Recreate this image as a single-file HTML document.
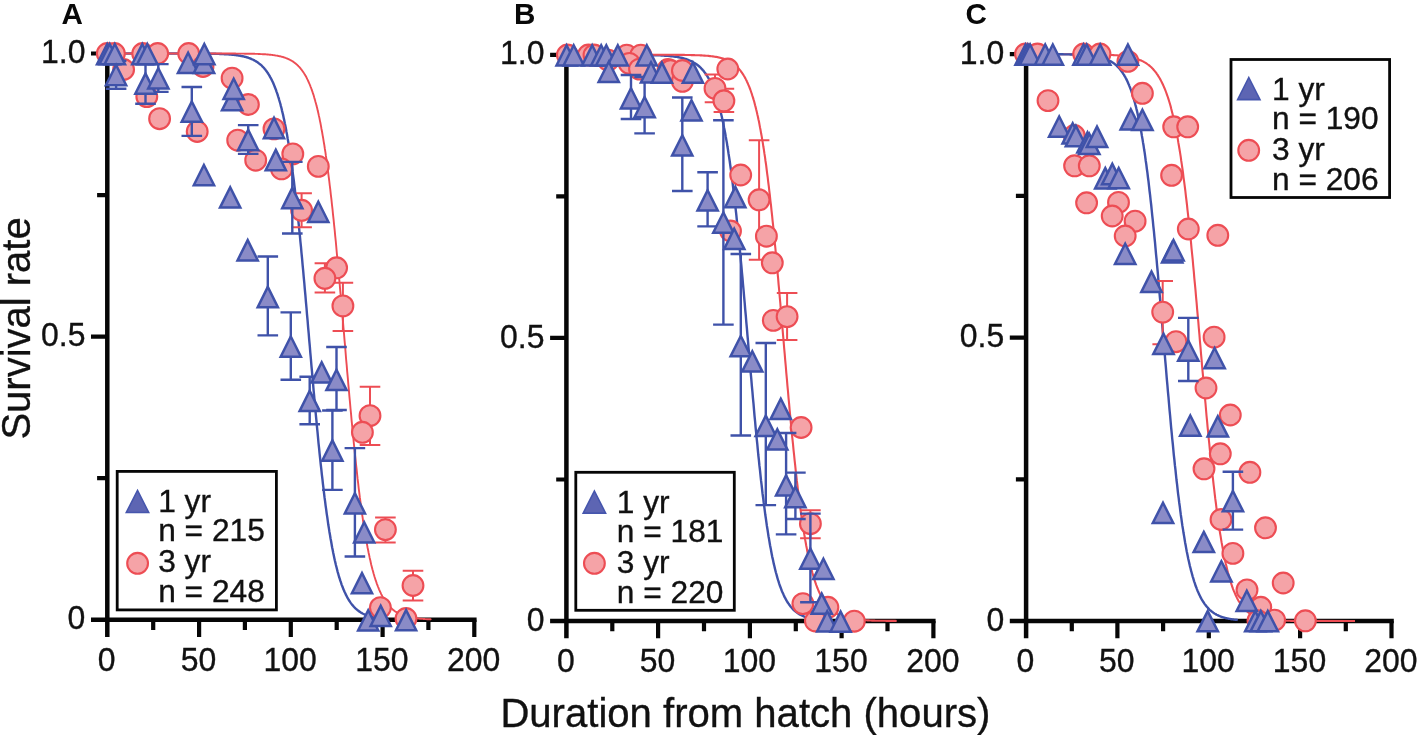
<!DOCTYPE html>
<html lang="en"><head><meta charset="utf-8"><title>Survival rate vs duration from hatch</title>
<style>html,body{margin:0;padding:0;background:#fff}body{width:1417px;height:735px;overflow:hidden}svg{display:block}</style></head>
<body>
<svg width="1417" height="735" viewBox="0 0 1417 735" font-family="'Liberation Sans', Arial, sans-serif">
<rect width="1417" height="735" fill="#fff"/>
<g><path d="M91.0 619.8 H476.6" stroke="#060606" stroke-width="4.5" fill="none"/><path d="M107.3 51.4 V637.0" stroke="#060606" stroke-width="4.5" fill="none"/><path d="M199.1 619.8 V637.0M290.8 619.8 V637.0M382.6 619.8 V637.0M474.3 619.8 V637.0M153.2 619.8 V630.0M244.9 619.8 V630.0M336.7 619.8 V630.0M428.4 619.8 V630.0M91.0 53.5 H107.3M97.1 195.1 H107.3M91.0 336.6 H107.3M97.1 478.2 H107.3" stroke="#060606" stroke-width="4.2" fill="none"/></g>
<g font-size="34" fill="#111" stroke="#111" stroke-width=".35"><text transform="translate(106.7,670.8) scale(.94,1)" text-anchor="middle">0</text><text transform="translate(198.5,670.8) scale(.94,1)" text-anchor="middle">50</text><text transform="translate(290.2,670.8) scale(.94,1)" text-anchor="middle">100</text><text transform="translate(381.9,670.8) scale(.94,1)" text-anchor="middle">150</text><text transform="translate(473.7,670.8) scale(.94,1)" text-anchor="middle">200</text><text transform="translate(85.4,63.1) scale(.94,1)" text-anchor="end">1.0</text><text transform="translate(85.4,346.2) scale(.94,1)" text-anchor="end">0.5</text><text transform="translate(85.4,629.4) scale(.94,1)" text-anchor="end">0</text></g>
<g><path d="M550.1 621.0 H935.6" stroke="#060606" stroke-width="4.5" fill="none"/><path d="M566.4 52.7 V638.2" stroke="#060606" stroke-width="4.5" fill="none"/><path d="M658.1 621.0 V638.2M749.9 621.0 V638.2M841.6 621.0 V638.2M933.4 621.0 V638.2M612.3 621.0 V631.2M704.0 621.0 V631.2M795.8 621.0 V631.2M887.5 621.0 V631.2M550.1 54.8 H566.4M556.2 196.4 H566.4M550.1 337.9 H566.4M556.2 479.5 H566.4" stroke="#060606" stroke-width="4.2" fill="none"/></g>
<g font-size="34" fill="#111" stroke="#111" stroke-width=".35"><text transform="translate(565.8,672.0) scale(.94,1)" text-anchor="middle">0</text><text transform="translate(657.5,672.0) scale(.94,1)" text-anchor="middle">50</text><text transform="translate(749.3,672.0) scale(.94,1)" text-anchor="middle">100</text><text transform="translate(841.0,672.0) scale(.94,1)" text-anchor="middle">150</text><text transform="translate(932.8,672.0) scale(.94,1)" text-anchor="middle">200</text><text transform="translate(544.5,64.4) scale(.94,1)" text-anchor="end">1.0</text><text transform="translate(544.5,347.5) scale(.94,1)" text-anchor="end">0.5</text><text transform="translate(544.5,630.6) scale(.94,1)" text-anchor="end">0</text></g>
<g><path d="M1009.8 621.0 H1393.8" stroke="#060606" stroke-width="4.5" fill="none"/><path d="M1026.1 52.1 V638.2" stroke="#060606" stroke-width="4.5" fill="none"/><path d="M1117.4 621.0 V638.2M1208.8 621.0 V638.2M1300.1 621.0 V638.2M1391.5 621.0 V638.2M1071.8 621.0 V631.2M1163.1 621.0 V631.2M1254.5 621.0 V631.2M1345.8 621.0 V631.2M1009.8 54.2 H1026.1M1015.9 195.9 H1026.1M1009.8 337.6 H1026.1M1015.9 479.3 H1026.1" stroke="#060606" stroke-width="4.2" fill="none"/></g>
<g font-size="34" fill="#111" stroke="#111" stroke-width=".35"><text transform="translate(1025.5,672.0) scale(.94,1)" text-anchor="middle">0</text><text transform="translate(1116.8,672.0) scale(.94,1)" text-anchor="middle">50</text><text transform="translate(1208.2,672.0) scale(.94,1)" text-anchor="middle">100</text><text transform="translate(1299.5,672.0) scale(.94,1)" text-anchor="middle">150</text><text transform="translate(1390.9,672.0) scale(.94,1)" text-anchor="middle">200</text><text transform="translate(1004.2,63.8) scale(.94,1)" text-anchor="end">1.0</text><text transform="translate(1004.2,347.2) scale(.94,1)" text-anchor="end">0.5</text><text transform="translate(1004.2,630.6) scale(.94,1)" text-anchor="end">0</text></g>
<path d="M107.3 53.5 L195.1 53.5 L195.1 53.6 L195.7 53.6 L196.3 53.6 L196.9 53.6 L197.5 53.6 L198.1 53.6 L198.6 53.6 L199.2 53.6 L199.8 53.6 L200.4 53.6 L201.0 53.6 L201.6 53.6 L202.2 53.6 L202.8 53.6 L203.4 53.6 L203.9 53.6 L204.5 53.6 L205.1 53.7 L205.7 53.7 L206.3 53.7 L206.9 53.7 L207.5 53.7 L208.1 53.7 L208.6 53.7 L209.2 53.7 L209.8 53.7 L210.4 53.7 L211.0 53.7 L211.6 53.7 L212.2 53.8 L212.8 53.8 L213.3 53.8 L213.9 53.8 L214.5 53.8 L215.1 53.8 L215.7 53.8 L216.3 53.9 L216.8 53.9 L217.4 53.9 L218.0 53.9 L218.6 53.9 L219.2 53.9 L219.8 54.0 L220.3 54.0 L220.9 54.0 L221.5 54.0 L222.1 54.1 L222.7 54.1 L223.3 54.1 L223.8 54.1 L224.4 54.2 L225.0 54.2 L225.6 54.2 L226.2 54.3 L226.7 54.3 L227.3 54.3 L227.9 54.4 L228.5 54.4 L229.1 54.5 L229.6 54.5 L230.2 54.5 L230.8 54.6 L231.4 54.6 L232.0 54.7 L232.5 54.8 L233.1 54.8 L233.7 54.9 L234.3 54.9 L234.8 55.0 L235.4 55.1 L236.0 55.1 L236.6 55.2 L237.2 55.3 L237.7 55.4 L238.3 55.5 L238.9 55.6 L239.5 55.6 L240.0 55.7 L240.6 55.8 L241.2 56.0 L241.8 56.1 L242.3 56.2 L242.9 56.3 L243.5 56.4 L244.1 56.6 L244.6 56.7 L245.2 56.9 L245.8 57.0 L246.4 57.2 L246.9 57.3 L247.5 57.5 L248.1 57.7 L248.6 57.9 L249.2 58.1 L249.8 58.3 L250.4 58.5 L250.9 58.8 L251.5 59.0 L252.1 59.3 L252.6 59.5 L253.2 59.8 L253.8 60.1 L254.4 60.4 L254.9 60.7 L255.5 61.0 L256.1 61.4 L256.6 61.7 L257.2 62.1 L257.8 62.5 L258.3 62.9 L258.9 63.3 L259.5 63.8 L260.0 64.2 L260.6 64.7 L261.2 65.2 L261.8 65.7 L262.3 66.3 L262.9 66.9 L263.5 67.5 L264.0 68.1 L264.6 68.8 L265.2 69.4 L265.7 70.2 L266.3 70.9 L266.9 71.7 L267.4 72.5 L268.0 73.3 L268.5 74.2 L269.1 75.1 L269.7 76.1 L270.2 77.1 L270.8 78.1 L271.4 79.2 L271.9 80.4 L272.5 81.5 L273.1 82.8 L273.6 84.0 L274.2 85.4 L274.7 86.8 L275.3 88.2 L275.9 89.7 L276.4 91.3 L277.0 92.9 L277.6 94.6 L278.1 96.3 L278.7 98.1 L279.2 100.0 L279.8 102.0 L280.4 104.0 L280.9 106.1 L281.5 108.3 L282.0 110.6 L282.6 113.0 L283.2 115.4 L283.7 117.9 L284.3 120.6 L284.8 123.3 L285.4 126.1 L286.0 129.0 L286.5 132.0 L287.1 135.1 L287.6 138.3 L288.2 141.6 L288.8 145.0 L289.3 148.5 L289.9 152.1 L290.4 155.9 L291.0 159.7 L291.5 163.6 L292.1 167.7 L292.6 171.9 L293.2 176.1 L293.8 180.5 L294.3 185.0 L294.9 189.7 L295.4 194.4 L296.0 199.2 L296.5 204.1 L297.1 209.2 L297.6 214.3 L298.2 219.6 L298.8 224.9 L299.3 230.3 L299.9 235.9 L300.4 241.5 L301.0 247.2 L301.5 253.0 L302.1 258.9 L302.6 264.8 L303.2 270.8 L303.7 276.9 L304.3 283.0 L304.8 289.2 L305.4 295.4 L305.9 301.7 L306.5 308.0 L307.0 314.3 L307.6 320.7 L308.1 327.1 L308.7 333.5 L309.2 339.8 L309.8 346.2 L310.3 352.6 L310.9 359.0 L311.4 365.3 L312.0 371.6 L312.5 377.9 L313.1 384.1 L313.6 390.3 L314.2 396.4 L314.7 402.5 L315.3 408.5 L315.8 414.4 L316.4 420.3 L316.9 426.1 L317.5 431.8 L318.0 437.4 L318.5 443.0 L319.1 448.4 L319.6 453.7 L320.2 459.0 L320.7 464.1 L321.3 469.2 L321.8 474.1 L322.4 478.9 L322.9 483.6 L323.5 488.3 L324.0 492.8 L324.5 497.2 L325.1 501.4 L325.6 505.6 L326.2 509.7 L326.7 513.6 L327.3 517.4 L327.8 521.2 L328.3 524.8 L328.9 528.3 L329.4 531.7 L330.0 535.0 L330.5 538.2 L331.1 541.3 L331.6 544.3 L332.1 547.2 L332.7 550.0 L333.2 552.7 L333.8 555.4 L334.3 557.9 L334.8 560.3 L335.4 562.7 L335.9 565.0 L336.5 567.2 L337.0 569.3 L337.5 571.3 L338.1 573.3 L338.6 575.2 L339.1 577.0 L339.7 578.7 L340.2 580.4 L340.8 582.0 L341.3 583.6 L341.8 585.1 L342.4 586.5 L342.9 587.9 L343.4 589.3 L344.0 590.5 L344.5 591.8 L345.1 592.9 L345.6 594.1 L346.1 595.2 L346.7 596.2 L347.2 597.2 L347.7 598.2 L348.3 599.1 L348.8 600.0 L349.3 600.8 L349.9 601.6 L350.4 602.4 L350.9 603.1 L351.5 603.9 L352.0 604.5 L352.5 605.2 L353.1 605.8 L353.6 606.4 L354.1 607.0 L354.7 607.6 L355.2 608.1 L355.7 608.6 L356.3 609.1 L356.8 609.5 L357.3 610.0 L357.9 610.4 L358.4 610.8 L358.9 611.2 L359.4 611.6 L360.0 611.9 L360.5 612.3 L361.0 612.6 L361.6 612.9 L362.1 613.2 L362.6 613.5 L363.2 613.8 L363.7 614.0 L364.2 614.3 L364.7 614.5 L365.3 614.8 L365.8 615.0 L366.3 615.2 L366.8 615.4 L367.4 615.6 L367.9 615.8 L368.4 616.0 L369.0 616.1 L369.5 616.3 L370.0 616.4 L370.5 616.6 L371.1 616.7 L371.6 616.9 L372.1 617.0 L372.6 617.1 L373.2 617.2 L373.7 617.3 L374.2 617.5 L374.7 617.6 L375.3 617.7 L375.8 617.7 L376.3 617.8 L376.8 617.9 L377.4 618.0 L377.9 618.1 L378.4 618.2 L378.9 618.2 L379.4 618.3 L380.0 618.4 L380.5 618.4 L381.0 618.5 L381.5 618.5 L382.1 618.6 L382.6 618.7 L383.1 618.7 L383.6 618.8" fill="none" stroke="#3f52a9" stroke-width="2.4" stroke-linejoin="round"/>
<path d="M107.3 53.5 L235.5 53.5 L235.5 53.6 L236.1 53.6 L236.6 53.6 L237.1 53.6 L237.7 53.6 L238.2 53.6 L238.8 53.6 L239.3 53.6 L239.9 53.6 L240.4 53.6 L240.9 53.6 L241.5 53.6 L242.0 53.6 L242.6 53.6 L243.1 53.6 L243.7 53.6 L244.2 53.6 L244.7 53.7 L245.3 53.7 L245.8 53.7 L246.4 53.7 L246.9 53.7 L247.5 53.7 L248.0 53.7 L248.5 53.7 L249.1 53.7 L249.6 53.7 L250.2 53.7 L250.7 53.7 L251.3 53.8 L251.8 53.8 L252.3 53.8 L252.9 53.8 L253.4 53.8 L254.0 53.8 L254.5 53.8 L255.1 53.9 L255.6 53.9 L256.1 53.9 L256.7 53.9 L257.2 53.9 L257.8 53.9 L258.3 54.0 L258.9 54.0 L259.4 54.0 L260.0 54.0 L260.5 54.1 L261.0 54.1 L261.6 54.1 L262.1 54.1 L262.7 54.2 L263.2 54.2 L263.8 54.2 L264.3 54.3 L264.9 54.3 L265.4 54.3 L265.9 54.4 L266.5 54.4 L267.0 54.5 L267.6 54.5 L268.1 54.5 L268.7 54.6 L269.2 54.6 L269.7 54.7 L270.3 54.8 L270.8 54.8 L271.4 54.9 L271.9 54.9 L272.5 55.0 L273.0 55.1 L273.6 55.1 L274.1 55.2 L274.6 55.3 L275.2 55.4 L275.7 55.5 L276.3 55.6 L276.8 55.6 L277.4 55.7 L277.9 55.8 L278.5 56.0 L279.0 56.1 L279.5 56.2 L280.1 56.3 L280.6 56.4 L281.2 56.6 L281.7 56.7 L282.3 56.9 L282.8 57.0 L283.4 57.2 L283.9 57.3 L284.4 57.5 L285.0 57.7 L285.5 57.9 L286.1 58.1 L286.6 58.3 L287.2 58.5 L287.7 58.8 L288.3 59.0 L288.8 59.3 L289.4 59.5 L289.9 59.8 L290.4 60.1 L291.0 60.4 L291.5 60.7 L292.1 61.0 L292.6 61.4 L293.2 61.7 L293.7 62.1 L294.3 62.5 L294.8 62.9 L295.3 63.3 L295.9 63.8 L296.4 64.2 L297.0 64.7 L297.5 65.2 L298.1 65.7 L298.6 66.3 L299.2 66.9 L299.7 67.5 L300.3 68.1 L300.8 68.8 L301.3 69.4 L301.9 70.2 L302.4 70.9 L303.0 71.7 L303.5 72.5 L304.1 73.3 L304.6 74.2 L305.2 75.1 L305.7 76.1 L306.3 77.1 L306.8 78.1 L307.3 79.2 L307.9 80.4 L308.4 81.5 L309.0 82.8 L309.5 84.0 L310.1 85.4 L310.6 86.8 L311.2 88.2 L311.7 89.7 L312.3 91.3 L312.8 92.9 L313.4 94.6 L313.9 96.3 L314.4 98.1 L315.0 100.0 L315.5 102.0 L316.1 104.0 L316.6 106.1 L317.2 108.3 L317.7 110.6 L318.3 113.0 L318.8 115.4 L319.4 117.9 L319.9 120.6 L320.5 123.3 L321.0 126.1 L321.5 129.0 L322.1 132.0 L322.6 135.1 L323.2 138.3 L323.7 141.6 L324.3 145.0 L324.8 148.5 L325.4 152.1 L325.9 155.9 L326.5 159.7 L327.0 163.6 L327.6 167.7 L328.1 171.9 L328.6 176.1 L329.2 180.5 L329.7 185.0 L330.3 189.7 L330.8 194.4 L331.4 199.2 L331.9 204.1 L332.5 209.2 L333.0 214.3 L333.6 219.6 L334.1 224.9 L334.7 230.3 L335.2 235.9 L335.8 241.5 L336.3 247.2 L336.8 253.0 L337.4 258.9 L337.9 264.8 L338.5 270.8 L339.0 276.9 L339.6 283.0 L340.1 289.2 L340.7 295.4 L341.2 301.7 L341.8 308.0 L342.3 314.3 L342.9 320.7 L343.4 327.1 L344.0 333.5 L344.5 339.8 L345.1 346.2 L345.6 352.6 L346.1 359.0 L346.7 365.3 L347.2 371.6 L347.8 377.9 L348.3 384.1 L348.9 390.3 L349.4 396.4 L350.0 402.5 L350.5 408.5 L351.1 414.4 L351.6 420.3 L352.2 426.1 L352.7 431.8 L353.3 437.4 L353.8 443.0 L354.4 448.4 L354.9 453.7 L355.5 459.0 L356.0 464.1 L356.6 469.2 L357.1 474.1 L357.6 478.9 L358.2 483.6 L358.7 488.3 L359.3 492.8 L359.8 497.2 L360.4 501.4 L360.9 505.6 L361.5 509.7 L362.0 513.6 L362.6 517.4 L363.1 521.2 L363.7 524.8 L364.2 528.3 L364.8 531.7 L365.3 535.0 L365.9 538.2 L366.4 541.3 L367.0 544.3 L367.5 547.2 L368.1 550.0 L368.6 552.7 L369.2 555.4 L369.7 557.9 L370.3 560.3 L370.8 562.7 L371.3 565.0 L371.9 567.2 L372.4 569.3 L373.0 571.3 L373.5 573.3 L374.1 575.2 L374.6 577.0 L375.2 578.7 L375.7 580.4 L376.3 582.0 L376.8 583.6 L377.4 585.1 L377.9 586.5 L378.5 587.9 L379.0 589.3 L379.6 590.5 L380.1 591.8 L380.7 592.9 L381.2 594.1 L381.8 595.2 L382.3 596.2 L382.9 597.2 L383.4 598.2 L384.0 599.1 L384.5 600.0 L385.1 600.8 L385.6 601.6 L386.2 602.4 L386.7 603.1 L387.3 603.9 L387.8 604.5 L388.4 605.2 L388.9 605.8 L389.5 606.4 L390.0 607.0 L390.6 607.6 L391.1 608.1 L391.7 608.6 L392.2 609.1 L392.7 609.5 L393.3 610.0 L393.8 610.4 L394.4 610.8 L394.9 611.2 L395.5 611.6 L396.0 611.9 L396.6 612.3 L397.1 612.6 L397.7 612.9 L398.2 613.2 L398.8 613.5 L399.3 613.8 L399.9 614.0 L400.4 614.3 L401.0 614.5 L401.5 614.8 L402.1 615.0 L402.6 615.2 L403.2 615.4 L403.7 615.6 L404.3 615.8 L404.8 616.0 L405.4 616.1 L405.9 616.3 L406.5 616.4 L407.0 616.6 L407.6 616.7 L408.1 616.9 L408.7 617.0 L409.2 617.1 L409.8 617.2 L410.3 617.3 L410.9 617.5 L411.4 617.6 L412.0 617.7 L412.5 617.7 L413.1 617.8 L413.6 617.9 L414.2 618.0 L414.7 618.1 L415.3 618.2 L415.8 618.2 L416.4 618.3 L416.9 618.4 L417.5 618.4 L418.0 618.5 L418.6 618.5 L419.1 618.6 L419.7 618.7 L420.2 618.7 L420.8 618.8 L421.3 618.8 L421.9 618.8 L422.4 618.9 L423.0 618.9 L423.5 619.0 L424.1 619.0 L424.6 619.0 L425.2 619.1 L425.7 619.1 L426.3 619.1 L426.8 619.2 L427.4 619.2 L427.9 619.2 L428.5 619.2 L429.0 619.3 L429.6 619.3 L430.1 619.3 L430.7 619.3 L431.2 619.8" fill="none" stroke="#ed4d54" stroke-width="1.9" stroke-linejoin="round"/>
<path d="M566.4 54.8 L630.0 54.8 L630.0 54.9 L630.6 54.9 L631.3 54.9 L631.9 54.9 L632.5 54.9 L633.1 54.9 L633.8 54.9 L634.4 54.9 L635.0 54.9 L635.7 54.9 L636.3 54.9 L636.9 54.9 L637.5 54.9 L638.2 54.9 L638.8 54.9 L639.4 54.9 L640.0 54.9 L640.7 55.0 L641.3 55.0 L641.9 55.0 L642.5 55.0 L643.2 55.0 L643.8 55.0 L644.4 55.0 L645.0 55.0 L645.7 55.0 L646.3 55.0 L646.9 55.0 L647.5 55.0 L648.1 55.1 L648.8 55.1 L649.4 55.1 L650.0 55.1 L650.6 55.1 L651.2 55.1 L651.8 55.1 L652.5 55.2 L653.1 55.2 L653.7 55.2 L654.3 55.2 L654.9 55.2 L655.5 55.2 L656.2 55.3 L656.8 55.3 L657.4 55.3 L658.0 55.3 L658.6 55.4 L659.2 55.4 L659.8 55.4 L660.4 55.4 L661.1 55.5 L661.7 55.5 L662.3 55.5 L662.9 55.6 L663.5 55.6 L664.1 55.6 L664.7 55.7 L665.3 55.7 L665.9 55.8 L666.5 55.8 L667.1 55.8 L667.7 55.9 L668.4 55.9 L669.0 56.0 L669.6 56.1 L670.2 56.1 L670.8 56.2 L671.4 56.2 L672.0 56.3 L672.6 56.4 L673.2 56.4 L673.8 56.5 L674.4 56.6 L675.0 56.7 L675.6 56.8 L676.2 56.9 L676.8 56.9 L677.4 57.0 L678.0 57.1 L678.6 57.3 L679.2 57.4 L679.8 57.5 L680.4 57.6 L681.0 57.7 L681.6 57.9 L682.2 58.0 L682.8 58.2 L683.4 58.3 L684.0 58.5 L684.6 58.6 L685.2 58.8 L685.7 59.0 L686.3 59.2 L686.9 59.4 L687.5 59.6 L688.1 59.8 L688.7 60.1 L689.3 60.3 L689.9 60.6 L690.5 60.8 L691.1 61.1 L691.7 61.4 L692.3 61.7 L692.8 62.0 L693.4 62.3 L694.0 62.7 L694.6 63.0 L695.2 63.4 L695.8 63.8 L696.4 64.2 L697.0 64.6 L697.5 65.1 L698.1 65.5 L698.7 66.0 L699.3 66.5 L699.9 67.0 L700.5 67.6 L701.0 68.2 L701.6 68.8 L702.2 69.4 L702.8 70.1 L703.4 70.7 L704.0 71.5 L704.5 72.2 L705.1 73.0 L705.7 73.8 L706.3 74.6 L706.9 75.5 L707.4 76.4 L708.0 77.4 L708.6 78.4 L709.2 79.4 L709.7 80.5 L710.3 81.7 L710.9 82.8 L711.5 84.1 L712.0 85.3 L712.6 86.7 L713.2 88.0 L713.8 89.5 L714.3 91.0 L714.9 92.5 L715.5 94.2 L716.1 95.9 L716.6 97.6 L717.2 99.4 L717.8 101.3 L718.3 103.3 L718.9 105.3 L719.5 107.4 L720.1 109.6 L720.6 111.9 L721.2 114.3 L721.8 116.7 L722.3 119.2 L722.9 121.8 L723.5 124.6 L724.0 127.4 L724.6 130.3 L725.2 133.3 L725.7 136.4 L726.3 139.6 L726.9 142.9 L727.4 146.3 L728.0 149.8 L728.5 153.4 L729.1 157.1 L729.7 161.0 L730.2 164.9 L730.8 169.0 L731.4 173.1 L731.9 177.4 L732.5 181.8 L733.0 186.3 L733.6 190.9 L734.2 195.6 L734.7 200.5 L735.3 205.4 L735.8 210.4 L736.4 215.6 L736.9 220.8 L737.5 226.2 L738.1 231.6 L738.6 237.1 L739.2 242.8 L739.7 248.5 L740.3 254.3 L740.8 260.1 L741.4 266.1 L741.9 272.1 L742.5 278.1 L743.0 284.3 L743.6 290.5 L744.1 296.7 L744.7 303.0 L745.2 309.3 L745.8 315.6 L746.3 322.0 L746.9 328.3 L747.4 334.7 L748.0 341.1 L748.5 347.5 L749.1 353.8 L749.6 360.2 L750.2 366.5 L750.7 372.8 L751.3 379.1 L751.8 385.3 L752.4 391.5 L752.9 397.7 L753.5 403.7 L754.0 409.7 L754.5 415.7 L755.1 421.5 L755.6 427.3 L756.2 433.0 L756.7 438.7 L757.3 444.2 L757.8 449.6 L758.3 455.0 L758.9 460.2 L759.4 465.4 L760.0 470.4 L760.5 475.3 L761.0 480.2 L761.6 484.9 L762.1 489.5 L762.6 494.0 L763.2 498.4 L763.7 502.7 L764.3 506.8 L764.8 510.9 L765.3 514.8 L765.9 518.7 L766.4 522.4 L766.9 526.0 L767.5 529.5 L768.0 532.9 L768.5 536.2 L769.1 539.4 L769.6 542.5 L770.1 545.5 L770.7 548.4 L771.2 551.2 L771.7 554.0 L772.2 556.6 L772.8 559.1 L773.3 561.5 L773.8 563.9 L774.4 566.2 L774.9 568.4 L775.4 570.5 L775.9 572.5 L776.5 574.5 L777.0 576.4 L777.5 578.2 L778.0 579.9 L778.6 581.6 L779.1 583.3 L779.6 584.8 L780.1 586.3 L780.7 587.8 L781.2 589.1 L781.7 590.5 L782.2 591.7 L782.8 593.0 L783.3 594.1 L783.8 595.3 L784.3 596.4 L784.8 597.4 L785.4 598.4 L785.9 599.4 L786.4 600.3 L786.9 601.2 L787.4 602.0 L787.9 602.8 L788.5 603.6 L789.0 604.3 L789.5 605.1 L790.0 605.7 L790.5 606.4 L791.0 607.0 L791.6 607.6 L792.1 608.2 L792.6 608.8 L793.1 609.3 L793.6 609.8 L794.1 610.3 L794.6 610.7 L795.1 611.2 L795.7 611.6 L796.2 612.0 L796.7 612.4 L797.2 612.8 L797.7 613.1 L798.2 613.5 L798.7 613.8 L799.2 614.1 L799.7 614.4 L800.2 614.7 L800.7 615.0 L801.2 615.2 L801.8 615.5 L802.3 615.7 L802.8 616.0 L803.3 616.2 L803.8 616.4 L804.3 616.6 L804.8 616.8 L805.3 617.0 L805.8 617.2 L806.3 617.3 L806.8 617.5 L807.3 617.6 L807.8 617.8 L808.3 617.9 L808.8 618.1 L809.3 618.2 L809.8 618.3 L810.3 618.4 L810.8 618.5 L811.3 618.7 L811.8 618.8 L812.3 618.9 L812.8 618.9 L813.3 619.0 L813.8 619.1 L814.3 619.2 L814.8 619.3 L815.3 619.4 L815.8 619.4 L816.2 619.5 L816.7 619.6 L817.2 619.6 L817.7 619.7 L818.2 619.7 L818.7 619.8 L819.2 619.9 L819.7 619.9 L820.2 620.0" fill="none" stroke="#3f52a9" stroke-width="2.4" stroke-linejoin="round"/>
<path d="M566.4 54.8 L675.8 54.8 L675.8 54.9 L676.3 54.9 L676.9 54.9 L677.4 54.9 L677.9 54.9 L678.4 54.9 L679.0 54.9 L679.5 54.9 L680.0 54.9 L680.6 54.9 L681.1 54.9 L681.6 54.9 L682.1 54.9 L682.7 54.9 L683.2 54.9 L683.7 54.9 L684.3 54.9 L684.8 55.0 L685.3 55.0 L685.9 55.0 L686.4 55.0 L686.9 55.0 L687.4 55.0 L688.0 55.0 L688.5 55.0 L689.0 55.0 L689.6 55.0 L690.1 55.0 L690.6 55.0 L691.2 55.1 L691.7 55.1 L692.2 55.1 L692.8 55.1 L693.3 55.1 L693.8 55.1 L694.4 55.1 L694.9 55.2 L695.4 55.2 L695.9 55.2 L696.5 55.2 L697.0 55.2 L697.5 55.2 L698.1 55.3 L698.6 55.3 L699.1 55.3 L699.7 55.3 L700.2 55.4 L700.7 55.4 L701.3 55.4 L701.8 55.4 L702.3 55.5 L702.9 55.5 L703.4 55.5 L703.9 55.6 L704.5 55.6 L705.0 55.6 L705.5 55.7 L706.1 55.7 L706.6 55.8 L707.1 55.8 L707.7 55.8 L708.2 55.9 L708.8 55.9 L709.3 56.0 L709.8 56.1 L710.4 56.1 L710.9 56.2 L711.4 56.2 L712.0 56.3 L712.5 56.4 L713.0 56.4 L713.6 56.5 L714.1 56.6 L714.6 56.7 L715.2 56.8 L715.7 56.9 L716.3 56.9 L716.8 57.0 L717.3 57.1 L717.9 57.3 L718.4 57.4 L718.9 57.5 L719.5 57.6 L720.0 57.7 L720.5 57.9 L721.1 58.0 L721.6 58.2 L722.2 58.3 L722.7 58.5 L723.2 58.6 L723.8 58.8 L724.3 59.0 L724.8 59.2 L725.4 59.4 L725.9 59.6 L726.5 59.8 L727.0 60.1 L727.5 60.3 L728.1 60.6 L728.6 60.8 L729.2 61.1 L729.7 61.4 L730.2 61.7 L730.8 62.0 L731.3 62.3 L731.9 62.7 L732.4 63.0 L732.9 63.4 L733.5 63.8 L734.0 64.2 L734.5 64.6 L735.1 65.1 L735.6 65.5 L736.2 66.0 L736.7 66.5 L737.3 67.0 L737.8 67.6 L738.3 68.2 L738.9 68.8 L739.4 69.4 L740.0 70.1 L740.5 70.7 L741.0 71.5 L741.6 72.2 L742.1 73.0 L742.7 73.8 L743.2 74.6 L743.7 75.5 L744.3 76.4 L744.8 77.4 L745.4 78.4 L745.9 79.4 L746.5 80.5 L747.0 81.7 L747.5 82.8 L748.1 84.1 L748.6 85.3 L749.2 86.7 L749.7 88.0 L750.3 89.5 L750.8 91.0 L751.3 92.5 L751.9 94.2 L752.4 95.9 L753.0 97.6 L753.5 99.4 L754.1 101.3 L754.6 103.3 L755.1 105.3 L755.7 107.4 L756.2 109.6 L756.8 111.9 L757.3 114.3 L757.9 116.7 L758.4 119.2 L759.0 121.8 L759.5 124.6 L760.0 127.4 L760.6 130.3 L761.1 133.3 L761.7 136.4 L762.2 139.6 L762.8 142.9 L763.3 146.3 L763.9 149.8 L764.4 153.4 L765.0 157.1 L765.5 161.0 L766.1 164.9 L766.6 169.0 L767.1 173.1 L767.7 177.4 L768.2 181.8 L768.8 186.3 L769.3 190.9 L769.9 195.6 L770.4 200.5 L771.0 205.4 L771.5 210.4 L772.1 215.6 L772.6 220.8 L773.2 226.2 L773.7 231.6 L774.3 237.1 L774.8 242.8 L775.4 248.5 L775.9 254.3 L776.5 260.1 L777.0 266.1 L777.5 272.1 L778.1 278.1 L778.6 284.3 L779.2 290.5 L779.7 296.7 L780.3 303.0 L780.8 309.3 L781.4 315.6 L781.9 322.0 L782.5 328.3 L783.0 334.7 L783.6 341.1 L784.1 347.5 L784.7 353.8 L785.2 360.2 L785.8 366.5 L786.3 372.8 L786.9 379.1 L787.4 385.3 L788.0 391.5 L788.5 397.7 L789.1 403.7 L789.6 409.7 L790.2 415.7 L790.7 421.5 L791.3 427.3 L791.8 433.0 L792.4 438.7 L793.0 444.2 L793.5 449.6 L794.1 455.0 L794.6 460.2 L795.2 465.4 L795.7 470.4 L796.3 475.3 L796.8 480.2 L797.4 484.9 L797.9 489.5 L798.5 494.0 L799.0 498.4 L799.6 502.7 L800.1 506.8 L800.7 510.9 L801.2 514.8 L801.8 518.7 L802.3 522.4 L802.9 526.0 L803.5 529.5 L804.0 532.9 L804.6 536.2 L805.1 539.4 L805.7 542.5 L806.2 545.5 L806.8 548.4 L807.3 551.2 L807.9 554.0 L808.4 556.6 L809.0 559.1 L809.6 561.5 L810.1 563.9 L810.7 566.2 L811.2 568.4 L811.8 570.5 L812.3 572.5 L812.9 574.5 L813.4 576.4 L814.0 578.2 L814.5 579.9 L815.1 581.6 L815.7 583.3 L816.2 584.8 L816.8 586.3 L817.3 587.8 L817.9 589.1 L818.4 590.5 L819.0 591.7 L819.6 593.0 L820.1 594.1 L820.7 595.3 L821.2 596.4 L821.8 597.4 L822.3 598.4 L822.9 599.4 L823.5 600.3 L824.0 601.2 L824.6 602.0 L825.1 602.8 L825.7 603.6 L826.2 604.3 L826.8 605.1 L827.4 605.7 L827.9 606.4 L828.5 607.0 L829.0 607.6 L829.6 608.2 L830.2 608.8 L830.7 609.3 L831.3 609.8 L831.8 610.3 L832.4 610.7 L833.0 611.2 L833.5 611.6 L834.1 612.0 L834.6 612.4 L835.2 612.8 L835.7 613.1 L836.3 613.5 L836.9 613.8 L837.4 614.1 L838.0 614.4 L838.6 614.7 L839.1 615.0 L839.7 615.2 L840.2 615.5 L840.8 615.7 L841.4 616.0 L841.9 616.2 L842.5 616.4 L843.0 616.6 L843.6 616.8 L844.2 617.0 L844.7 617.2 L845.3 617.3 L845.8 617.5 L846.4 617.6 L847.0 617.8 L847.5 617.9 L848.1 618.1 L848.7 618.2 L849.2 618.3 L849.8 618.4 L850.3 618.5 L850.9 618.7 L851.5 618.8 L852.0 618.9 L852.6 618.9 L853.2 619.0 L853.7 619.1 L854.3 619.2 L854.9 619.3 L855.4 619.4 L856.0 619.4 L856.5 619.5 L857.1 619.6 L857.7 619.6 L858.2 619.7 L858.8 619.7 L859.4 619.8 L859.9 619.9 L860.5 619.9 L861.1 620.0 L861.6 620.0 L862.2 620.0 L862.8 620.1 L863.3 620.1 L863.9 620.2 L864.5 620.2 L865.0 620.2 L865.6 620.3 L866.1 620.3 L866.7 620.3 L867.3 620.4 L867.8 620.4 L868.4 620.4 L869.0 620.4 L869.5 620.5 L870.1 620.5 L870.7 620.5 L871.2 620.5 L871.8 620.6 L872.4 620.6 L872.9 620.6 L873.5 620.6 L874.1 620.6 L874.6 620.6 L875.2 620.7 L875.8 620.7 L876.4 620.7 L876.9 620.7 L877.5 620.7 L878.1 620.7 L878.6 620.7 L879.2 620.8 L879.8 620.8 L880.3 620.8 L880.9 620.8 L881.5 620.8 L882.0 620.8 L882.6 620.8 L883.2 620.8 L883.7 620.8 L884.3 620.8 L884.9 620.8 L885.5 620.8 L886.0 620.9 L886.6 620.9 L887.2 620.9 L887.7 620.9 L888.3 620.9 L888.9 620.9 L889.4 620.9 L890.0 620.9 L890.6 620.9 L891.2 620.9 L891.7 620.9 L892.3 620.9 L892.9 620.9 L893.4 620.9 L894.0 620.9 L894.6 620.9 L895.1 620.9 L896.7 621.0" fill="none" stroke="#ed4d54" stroke-width="2.1" stroke-linejoin="round"/>
<path d="M1026.1 54.2 L1075.8 54.2 L1075.8 54.3 L1076.5 54.3 L1077.2 54.3 L1077.9 54.3 L1078.6 54.3 L1079.2 54.3 L1079.9 54.3 L1080.6 54.3 L1081.3 54.3 L1082.0 54.3 L1082.6 54.3 L1083.3 54.3 L1084.0 54.3 L1084.7 54.3 L1085.3 54.3 L1086.0 54.3 L1086.7 54.3 L1087.4 54.4 L1088.1 54.4 L1088.7 54.4 L1089.4 54.4 L1090.1 54.4 L1090.7 54.4 L1091.4 54.4 L1092.1 54.4 L1092.8 54.4 L1093.4 54.4 L1094.1 54.4 L1094.8 54.4 L1095.4 54.5 L1096.1 54.5 L1096.8 54.5 L1097.4 54.5 L1098.1 54.5 L1098.7 54.5 L1099.4 54.5 L1100.1 54.6 L1100.7 54.6 L1101.4 54.6 L1102.1 54.6 L1102.7 54.6 L1103.4 54.6 L1104.0 54.7 L1104.7 54.7 L1105.4 54.7 L1106.0 54.7 L1106.7 54.8 L1107.3 54.8 L1108.0 54.8 L1108.6 54.8 L1109.3 54.9 L1109.9 54.9 L1110.6 54.9 L1111.2 55.0 L1111.9 55.0 L1112.5 55.0 L1113.2 55.1 L1113.8 55.1 L1114.5 55.2 L1115.1 55.2 L1115.8 55.2 L1116.4 55.3 L1117.1 55.3 L1117.7 55.4 L1118.4 55.5 L1119.0 55.5 L1119.6 55.6 L1120.3 55.6 L1120.9 55.7 L1121.6 55.8 L1122.2 55.8 L1122.9 55.9 L1123.5 56.0 L1124.1 56.1 L1124.8 56.2 L1125.4 56.3 L1126.0 56.3 L1126.7 56.4 L1127.3 56.6 L1127.9 56.7 L1128.6 56.8 L1129.2 56.9 L1129.8 57.0 L1130.5 57.1 L1131.1 57.3 L1131.7 57.4 L1132.4 57.6 L1133.0 57.7 L1133.6 57.9 L1134.3 58.1 L1134.9 58.2 L1135.5 58.4 L1136.1 58.6 L1136.8 58.8 L1137.4 59.0 L1138.0 59.2 L1138.6 59.5 L1139.3 59.7 L1139.9 60.0 L1140.5 60.2 L1141.1 60.5 L1141.7 60.8 L1142.4 61.1 L1143.0 61.4 L1143.6 61.7 L1144.2 62.1 L1144.8 62.4 L1145.5 62.8 L1146.1 63.2 L1146.7 63.6 L1147.3 64.0 L1147.9 64.5 L1148.5 64.9 L1149.1 65.4 L1149.7 65.9 L1150.4 66.5 L1151.0 67.0 L1151.6 67.6 L1152.2 68.2 L1152.8 68.8 L1153.4 69.5 L1154.0 70.2 L1154.6 70.9 L1155.2 71.6 L1155.8 72.4 L1156.4 73.2 L1157.0 74.1 L1157.6 74.9 L1158.2 75.9 L1158.8 76.8 L1159.4 77.8 L1160.0 78.9 L1160.6 79.9 L1161.2 81.1 L1161.8 82.3 L1162.4 83.5 L1163.0 84.8 L1163.6 86.1 L1164.2 87.5 L1164.8 88.9 L1165.4 90.4 L1166.0 92.0 L1166.6 93.6 L1167.2 95.3 L1167.8 97.0 L1168.4 98.9 L1169.0 100.8 L1169.6 102.7 L1170.2 104.8 L1170.8 106.9 L1171.3 109.1 L1171.9 111.4 L1172.5 113.7 L1173.1 116.2 L1173.7 118.7 L1174.3 121.3 L1174.9 124.0 L1175.4 126.8 L1176.0 129.7 L1176.6 132.8 L1177.2 135.9 L1177.8 139.1 L1178.3 142.4 L1178.9 145.8 L1179.5 149.3 L1180.1 152.9 L1180.7 156.6 L1181.2 160.5 L1181.8 164.4 L1182.4 168.5 L1183.0 172.7 L1183.5 177.0 L1184.1 181.4 L1184.7 185.9 L1185.3 190.5 L1185.8 195.2 L1186.4 200.0 L1187.0 205.0 L1187.5 210.0 L1188.1 215.2 L1188.7 220.4 L1189.3 225.8 L1189.8 231.2 L1190.4 236.7 L1191.0 242.4 L1191.5 248.1 L1192.1 253.9 L1192.7 259.7 L1193.2 265.7 L1193.8 271.7 L1194.3 277.8 L1194.9 283.9 L1195.5 290.1 L1196.0 296.3 L1196.6 302.6 L1197.1 308.9 L1197.7 315.3 L1198.3 321.6 L1198.8 328.0 L1199.4 334.4 L1199.9 340.8 L1200.5 347.2 L1201.0 353.6 L1201.6 359.9 L1202.1 366.3 L1202.7 372.6 L1203.3 378.9 L1203.8 385.1 L1204.4 391.3 L1204.9 397.4 L1205.5 403.5 L1206.0 409.5 L1206.5 415.5 L1207.1 421.3 L1207.6 427.1 L1208.2 432.8 L1208.7 438.5 L1209.3 444.0 L1209.8 449.4 L1210.4 454.8 L1210.9 460.0 L1211.5 465.2 L1212.0 470.2 L1212.5 475.2 L1213.1 480.0 L1213.6 484.7 L1214.2 489.3 L1214.7 493.8 L1215.2 498.2 L1215.8 502.5 L1216.3 506.7 L1216.8 510.8 L1217.4 514.7 L1217.9 518.6 L1218.4 522.3 L1219.0 525.9 L1219.5 529.4 L1220.0 532.8 L1220.6 536.1 L1221.1 539.3 L1221.6 542.4 L1222.2 545.5 L1222.7 548.4 L1223.2 551.2 L1223.7 553.9 L1224.3 556.5 L1224.8 559.0 L1225.3 561.5 L1225.8 563.8 L1226.4 566.1 L1226.9 568.3 L1227.4 570.4 L1227.9 572.5 L1228.5 574.4 L1229.0 576.3 L1229.5 578.2 L1230.0 579.9 L1230.5 581.6 L1231.1 583.2 L1231.6 584.8 L1232.1 586.3 L1232.6 587.7 L1233.1 589.1 L1233.6 590.4 L1234.2 591.7 L1234.7 592.9 L1235.2 594.1 L1235.7 595.3 L1236.2 596.3 L1236.7 597.4 L1237.2 598.4 L1237.7 599.3 L1238.2 600.3 L1238.7 601.1 L1239.3 602.0 L1239.8 602.8 L1240.3 603.6 L1240.8 604.3 L1241.3 605.0 L1241.8 605.7 L1242.3 606.4 L1242.8 607.0 L1243.3 607.6 L1243.8 608.2 L1244.3 608.7 L1244.8 609.3 L1245.3 609.8 L1245.8 610.3 L1246.3 610.7 L1246.8 611.2 L1247.3 611.6 L1247.8 612.0 L1248.3 612.4 L1248.8 612.8 L1249.3 613.1 L1249.8 613.5 L1250.3 613.8 L1250.8 614.1 L1251.2 614.4 L1251.7 614.7 L1252.2 615.0 L1252.7 615.2 L1253.2 615.5 L1253.7 615.7 L1254.2 616.0 L1254.7 616.2 L1255.2 616.4 L1255.6 616.6 L1256.1 616.8 L1256.6 617.0 L1257.1 617.1 L1257.6 617.3 L1258.1 617.5 L1258.6 617.6 L1259.0 617.8 L1259.5 617.9 L1260.0 618.1 L1260.5 618.2 L1261.0 618.3 L1261.4 618.4 L1261.9 618.5 L1262.4 618.6 L1262.9 618.8 L1263.3 618.9 L1263.8 618.9 L1264.3 619.0 L1264.8 619.1 L1265.2 619.2 L1265.7 619.3 L1266.2 619.4 L1266.7 619.4 L1267.1 619.5 L1267.6 619.6 L1268.1 619.6 L1268.5 619.7 L1269.0 619.7 L1269.5 619.8 L1269.9 619.9 L1270.4 619.9 L1270.9 620.0 L1271.3 620.0 L1271.8 620.0 L1272.3 620.1 L1272.7 620.1 L1273.2 620.2 L1273.6 620.2 L1274.1 620.2 L1274.6 620.3 L1275.0 620.3 L1275.5 620.3 L1275.9 620.4 L1276.4 620.4 L1276.9 620.4 L1277.3 620.4 L1277.8 620.5 L1278.2 620.5 L1278.7 620.5 L1279.1 620.5 L1279.6 620.6 L1280.0 620.6 L1280.5 620.6 L1280.9 620.6 L1281.4 620.6 L1281.8 620.6 L1282.3 620.7 L1282.7 620.7 L1283.2 620.7 L1283.6 620.7 L1284.1 620.7 L1284.5 620.7 L1285.0 620.7 L1285.4 620.8 L1285.9 620.8 L1286.3 620.8 L1286.7 620.8 L1287.2 620.8 L1287.6 620.8 L1288.1 620.8 L1288.5 620.8 L1288.9 620.8 L1289.4 620.8 L1289.8 620.8 L1290.3 620.8 L1290.7 620.9 L1291.1 620.9 L1291.6 620.9 L1292.0 620.9 L1292.4 620.9 L1292.9 620.9 L1293.3 620.9 L1293.7 620.9 L1294.2 620.9 L1294.6 620.9 L1295.0 620.9 L1295.5 620.9 L1295.9 620.9 L1296.3 620.9 L1296.7 620.9 L1297.2 620.9 L1297.6 620.9 L1355.0 621.0" fill="none" stroke="#ed4d54" stroke-width="2.1" stroke-linejoin="round"/>
<path d="M1026.1 54.2 L1054.0 54.2 L1054.0 54.3 L1054.6 54.3 L1055.1 54.3 L1055.7 54.3 L1056.2 54.3 L1056.8 54.3 L1057.4 54.3 L1057.9 54.3 L1058.5 54.3 L1059.0 54.3 L1059.6 54.3 L1060.1 54.3 L1060.7 54.3 L1061.2 54.3 L1061.8 54.3 L1062.3 54.3 L1062.9 54.3 L1063.5 54.4 L1064.0 54.4 L1064.6 54.4 L1065.1 54.4 L1065.7 54.4 L1066.2 54.4 L1066.8 54.4 L1067.3 54.4 L1067.9 54.4 L1068.4 54.4 L1069.0 54.4 L1069.6 54.4 L1070.1 54.5 L1070.7 54.5 L1071.2 54.5 L1071.8 54.5 L1072.3 54.5 L1072.9 54.5 L1073.4 54.5 L1074.0 54.6 L1074.5 54.6 L1075.1 54.6 L1075.6 54.6 L1076.2 54.6 L1076.7 54.6 L1077.3 54.7 L1077.9 54.7 L1078.4 54.7 L1079.0 54.7 L1079.5 54.8 L1080.1 54.8 L1080.6 54.8 L1081.2 54.8 L1081.7 54.9 L1082.3 54.9 L1082.8 54.9 L1083.4 55.0 L1083.9 55.0 L1084.5 55.0 L1085.0 55.1 L1085.6 55.1 L1086.1 55.2 L1086.7 55.2 L1087.2 55.2 L1087.8 55.3 L1088.3 55.3 L1088.9 55.4 L1089.4 55.5 L1090.0 55.5 L1090.5 55.6 L1091.1 55.6 L1091.6 55.7 L1092.2 55.8 L1092.7 55.8 L1093.3 55.9 L1093.8 56.0 L1094.4 56.1 L1094.9 56.2 L1095.5 56.3 L1096.0 56.3 L1096.6 56.4 L1097.1 56.6 L1097.7 56.7 L1098.2 56.8 L1098.8 56.9 L1099.3 57.0 L1099.9 57.1 L1100.4 57.3 L1101.0 57.4 L1101.5 57.6 L1102.1 57.7 L1102.6 57.9 L1103.2 58.1 L1103.7 58.2 L1104.3 58.4 L1104.8 58.6 L1105.4 58.8 L1105.9 59.0 L1106.5 59.2 L1107.0 59.5 L1107.6 59.7 L1108.1 60.0 L1108.7 60.2 L1109.2 60.5 L1109.8 60.8 L1110.3 61.1 L1110.9 61.4 L1111.4 61.7 L1112.0 62.1 L1112.5 62.4 L1113.0 62.8 L1113.6 63.2 L1114.1 63.6 L1114.7 64.0 L1115.2 64.5 L1115.8 64.9 L1116.3 65.4 L1116.9 65.9 L1117.4 66.5 L1118.0 67.0 L1118.5 67.6 L1119.1 68.2 L1119.6 68.8 L1120.2 69.5 L1120.7 70.2 L1121.2 70.9 L1121.8 71.6 L1122.3 72.4 L1122.9 73.2 L1123.4 74.1 L1124.0 74.9 L1124.5 75.9 L1125.1 76.8 L1125.6 77.8 L1126.2 78.9 L1126.7 79.9 L1127.3 81.1 L1127.8 82.3 L1128.3 83.5 L1128.9 84.8 L1129.4 86.1 L1130.0 87.5 L1130.5 88.9 L1131.1 90.4 L1131.6 92.0 L1132.2 93.6 L1132.7 95.3 L1133.2 97.0 L1133.8 98.9 L1134.3 100.8 L1134.9 102.7 L1135.4 104.8 L1136.0 106.9 L1136.5 109.1 L1137.1 111.4 L1137.6 113.7 L1138.1 116.2 L1138.7 118.7 L1139.2 121.3 L1139.8 124.0 L1140.3 126.8 L1140.9 129.7 L1141.4 132.8 L1141.9 135.9 L1142.5 139.1 L1143.0 142.4 L1143.6 145.8 L1144.1 149.3 L1144.7 152.9 L1145.2 156.6 L1145.7 160.5 L1146.3 164.4 L1146.8 168.5 L1147.4 172.7 L1147.9 177.0 L1148.5 181.4 L1149.0 185.9 L1149.5 190.5 L1150.1 195.2 L1150.6 200.0 L1151.2 205.0 L1151.7 210.0 L1152.2 215.2 L1152.8 220.4 L1153.3 225.8 L1153.9 231.2 L1154.4 236.7 L1155.0 242.4 L1155.5 248.1 L1156.0 253.9 L1156.6 259.7 L1157.1 265.7 L1157.7 271.7 L1158.2 277.8 L1158.7 283.9 L1159.3 290.1 L1159.8 296.3 L1160.4 302.6 L1160.9 308.9 L1161.4 315.3 L1162.0 321.6 L1162.5 328.0 L1163.1 334.4 L1163.6 340.8 L1164.1 347.2 L1164.7 353.6 L1165.2 359.9 L1165.8 366.3 L1166.3 372.6 L1166.8 378.9 L1167.4 385.1 L1167.9 391.3 L1168.5 397.4 L1169.0 403.5 L1169.5 409.5 L1170.1 415.5 L1170.6 421.3 L1171.1 427.1 L1171.7 432.8 L1172.2 438.5 L1172.8 444.0 L1173.3 449.4 L1173.8 454.8 L1174.4 460.0 L1174.9 465.2 L1175.5 470.2 L1176.0 475.2 L1176.5 480.0 L1177.1 484.7 L1177.6 489.3 L1178.1 493.8 L1178.7 498.2 L1179.2 502.5 L1179.8 506.7 L1180.3 510.8 L1180.8 514.7 L1181.4 518.6 L1181.9 522.3 L1182.4 525.9 L1183.0 529.4 L1183.5 532.8 L1184.1 536.1 L1184.6 539.3 L1185.1 542.4 L1185.7 545.5 L1186.2 548.4 L1186.7 551.2 L1187.3 553.9 L1187.8 556.5 L1188.3 559.0 L1188.9 561.5 L1189.4 563.8 L1189.9 566.1 L1190.5 568.3 L1191.0 570.4 L1191.6 572.5 L1192.1 574.4 L1192.6 576.3 L1193.2 578.2 L1193.7 579.9 L1194.2 581.6 L1194.8 583.2 L1195.3 584.8 L1195.8 586.3 L1196.4 587.7 L1196.9 589.1 L1197.4 590.4 L1198.0 591.7 L1198.5 592.9 L1199.0 594.1 L1199.6 595.3 L1200.1 596.3 L1200.6 597.4 L1201.2 598.4 L1201.7 599.3 L1202.3 600.3 L1202.8 601.1 L1203.3 602.0 L1203.9 602.8 L1204.4 603.6 L1204.9 604.3 L1205.5 605.0 L1206.0 605.7 L1206.5 606.4 L1207.1 607.0 L1207.6 607.6 L1208.1 608.2 L1208.7 608.7 L1209.2 609.3 L1209.7 609.8 L1210.3 610.3 L1210.8 610.7 L1211.3 611.2 L1211.8 611.6 L1212.4 612.0 L1212.9 612.4 L1213.4 612.8 L1214.0 613.1 L1214.5 613.5 L1215.0 613.8 L1215.6 614.1 L1216.1 614.4 L1216.6 614.7 L1217.2 615.0 L1217.7 615.2 L1218.2 615.5 L1218.8 615.7 L1219.3 616.0 L1219.8 616.2 L1220.4 616.4 L1220.9 616.6 L1221.4 616.8 L1222.0 617.0 L1222.5 617.1 L1223.0 617.3 L1223.5 617.5 L1224.1 617.6 L1224.6 617.8 L1225.1 617.9 L1225.7 618.1 L1226.2 618.2 L1226.7 618.3 L1227.3 618.4 L1227.8 618.5 L1228.3 618.6 L1228.8 618.8 L1229.4 618.9 L1229.9 618.9 L1230.4 619.0 L1231.0 619.1 L1231.5 619.2 L1232.0 619.3 L1232.6 619.4 L1233.1 619.4 L1233.6 619.5 L1234.1 619.6 L1234.7 619.6 L1235.2 619.7 L1235.7 619.7 L1236.3 619.8 L1236.8 619.9 L1237.3 619.9 L1237.8 620.0" fill="none" stroke="#3f52a9" stroke-width="2.4" stroke-linejoin="round"/>
<g><path d="M301.6 193.3 V227.3 M291.3 193.3 H311.9 M291.3 227.3 H311.9" fill="none" stroke="#ed4d54" stroke-width="2.0"/><path d="M324.9 263.3 V292.4 M314.6 263.3 H335.2 M314.6 292.4 H335.2" fill="none" stroke="#ed4d54" stroke-width="2.0"/><path d="M342.9 282.8 V330.9 M332.6 282.8 H353.2 M332.6 330.9 H353.2" fill="none" stroke="#ed4d54" stroke-width="2.0"/><path d="M370.0 386.7 V445.1 M359.7 386.7 H380.3 M359.7 445.1 H380.3" fill="none" stroke="#ed4d54" stroke-width="2.0"/><path d="M385.4 517.4 V542.5 M375.1 517.4 H395.7 M375.1 542.5 H395.7" fill="none" stroke="#ed4d54" stroke-width="2.0"/><path d="M413.0 570.8 V600.5 M402.7 570.8 H423.3 M402.7 600.5 H423.3" fill="none" stroke="#ed4d54" stroke-width="2.0"/><circle cx="107.3" cy="53.5" r="10.4" fill="#f5a3a7" stroke="#ed4d54" stroke-width="2.1"/><circle cx="114.4" cy="53.5" r="10.4" fill="#f5a3a7" stroke="#ed4d54" stroke-width="2.1"/><circle cx="123.6" cy="69.5" r="10.4" fill="#f5a3a7" stroke="#ed4d54" stroke-width="2.1"/><circle cx="142.7" cy="53.5" r="10.4" fill="#f5a3a7" stroke="#ed4d54" stroke-width="2.1"/><circle cx="157.7" cy="53.5" r="10.4" fill="#f5a3a7" stroke="#ed4d54" stroke-width="2.1"/><circle cx="188.7" cy="53.5" r="10.4" fill="#f5a3a7" stroke="#ed4d54" stroke-width="2.1"/><circle cx="146.8" cy="96.6" r="10.4" fill="#f5a3a7" stroke="#ed4d54" stroke-width="2.1"/><circle cx="159.6" cy="118.7" r="10.4" fill="#f5a3a7" stroke="#ed4d54" stroke-width="2.1"/><circle cx="203.0" cy="66.5" r="10.4" fill="#f5a3a7" stroke="#ed4d54" stroke-width="2.1"/><circle cx="197.2" cy="131.5" r="10.4" fill="#f5a3a7" stroke="#ed4d54" stroke-width="2.1"/><circle cx="232.1" cy="78.2" r="10.4" fill="#f5a3a7" stroke="#ed4d54" stroke-width="2.1"/><circle cx="248.4" cy="104.5" r="10.4" fill="#f5a3a7" stroke="#ed4d54" stroke-width="2.1"/><circle cx="237.7" cy="140.2" r="10.4" fill="#f5a3a7" stroke="#ed4d54" stroke-width="2.1"/><circle cx="274.0" cy="128.9" r="10.4" fill="#f5a3a7" stroke="#ed4d54" stroke-width="2.1"/><circle cx="255.7" cy="160.2" r="10.4" fill="#f5a3a7" stroke="#ed4d54" stroke-width="2.1"/><circle cx="292.8" cy="153.9" r="10.4" fill="#f5a3a7" stroke="#ed4d54" stroke-width="2.1"/><circle cx="281.5" cy="168.9" r="10.4" fill="#f5a3a7" stroke="#ed4d54" stroke-width="2.1"/><circle cx="318.3" cy="166.4" r="10.4" fill="#f5a3a7" stroke="#ed4d54" stroke-width="2.1"/><circle cx="301.6" cy="210.3" r="10.4" fill="#f5a3a7" stroke="#ed4d54" stroke-width="2.1"/><circle cx="336.6" cy="267.8" r="10.4" fill="#f5a3a7" stroke="#ed4d54" stroke-width="2.1"/><circle cx="324.9" cy="278.3" r="10.4" fill="#f5a3a7" stroke="#ed4d54" stroke-width="2.1"/><circle cx="342.9" cy="305.9" r="10.4" fill="#f5a3a7" stroke="#ed4d54" stroke-width="2.1"/><circle cx="370.0" cy="415.7" r="10.4" fill="#f5a3a7" stroke="#ed4d54" stroke-width="2.1"/><circle cx="362.4" cy="432.3" r="10.4" fill="#f5a3a7" stroke="#ed4d54" stroke-width="2.1"/><circle cx="385.4" cy="529.6" r="10.4" fill="#f5a3a7" stroke="#ed4d54" stroke-width="2.1"/><circle cx="413.0" cy="585.5" r="10.4" fill="#f5a3a7" stroke="#ed4d54" stroke-width="2.1"/><circle cx="380.4" cy="607.6" r="10.4" fill="#f5a3a7" stroke="#ed4d54" stroke-width="2.1"/><circle cx="406.0" cy="618.5" r="10.4" fill="#f5a3a7" stroke="#ed4d54" stroke-width="2.1"/><path d="M116.1 60.7 V88.7 M105.8 60.7 H126.4 M105.8 88.7 H126.4" fill="none" stroke="#3f52a9" stroke-width="2.4"/><path d="M145.5 64.1 V103.8 M135.2 64.1 H155.8 M135.2 103.8 H155.8" fill="none" stroke="#3f52a9" stroke-width="2.4"/><path d="M158.3 64.1 V91.9 M148.0 64.1 H168.6 M148.0 91.9 H168.6" fill="none" stroke="#3f52a9" stroke-width="2.4"/><path d="M191.8 87.0 V135.9 M181.5 87.0 H202.1 M181.5 135.9 H202.1" fill="none" stroke="#3f52a9" stroke-width="2.4"/><path d="M248.2 125.1 V153.9 M237.9 125.1 H258.5 M237.9 153.9 H258.5" fill="none" stroke="#3f52a9" stroke-width="2.4"/><path d="M292.3 161.9 V233.5 M282.0 161.9 H302.6 M282.0 233.5 H302.6" fill="none" stroke="#3f52a9" stroke-width="2.4"/><path d="M267.8 256.5 V335.4 M257.5 256.5 H278.1 M257.5 335.4 H278.1" fill="none" stroke="#3f52a9" stroke-width="2.4"/><path d="M290.8 312.4 V379.7 M280.5 312.4 H301.1 M280.5 379.7 H301.1" fill="none" stroke="#3f52a9" stroke-width="2.4"/><path d="M336.5 347.0 V410.0 M326.2 347.0 H346.8 M326.2 410.0 H346.8" fill="none" stroke="#3f52a9" stroke-width="2.4"/><path d="M309.7 376.7 V424.3 M299.4 376.7 H320.0 M299.4 424.3 H320.0" fill="none" stroke="#3f52a9" stroke-width="2.4"/><path d="M332.4 410.5 V489.9 M322.1 410.5 H342.7 M322.1 489.9 H342.7" fill="none" stroke="#3f52a9" stroke-width="2.4"/><path d="M354.9 448.1 V556.5 M344.6 448.1 H365.2 M344.6 556.5 H365.2" fill="none" stroke="#3f52a9" stroke-width="2.4"/><path d="M107.2 44.0 L117.4 64.2 L97.0 64.2Z" fill="#8a8bc7" stroke="#3f52a9" stroke-width="2.5" stroke-linejoin="miter"/><path d="M109.7 44.0 L119.9 64.2 L99.5 64.2Z" fill="#8a8bc7" stroke="#3f52a9" stroke-width="2.5" stroke-linejoin="miter"/><path d="M114.8 44.0 L125.0 64.2 L104.6 64.2Z" fill="#8a8bc7" stroke="#3f52a9" stroke-width="2.5" stroke-linejoin="miter"/><path d="M142.3 44.0 L152.5 64.2 L132.2 64.2Z" fill="#8a8bc7" stroke="#3f52a9" stroke-width="2.5" stroke-linejoin="miter"/><path d="M147.3 44.0 L157.5 64.2 L137.2 64.2Z" fill="#8a8bc7" stroke="#3f52a9" stroke-width="2.5" stroke-linejoin="miter"/><path d="M116.1 65.0 L126.2 85.2 L105.9 85.2Z" fill="#8a8bc7" stroke="#3f52a9" stroke-width="2.5" stroke-linejoin="miter"/><path d="M145.5 73.6 L155.7 93.8 L135.3 93.8Z" fill="#8a8bc7" stroke="#3f52a9" stroke-width="2.5" stroke-linejoin="miter"/><path d="M158.3 68.2 L168.5 88.5 L148.2 88.5Z" fill="#8a8bc7" stroke="#3f52a9" stroke-width="2.5" stroke-linejoin="miter"/><path d="M188.1 52.7 L198.2 73.0 L177.9 73.0Z" fill="#8a8bc7" stroke="#3f52a9" stroke-width="2.5" stroke-linejoin="miter"/><path d="M204.0 52.7 L214.2 73.0 L193.8 73.0Z" fill="#8a8bc7" stroke="#3f52a9" stroke-width="2.5" stroke-linejoin="miter"/><path d="M204.3 44.0 L214.5 64.2 L194.2 64.2Z" fill="#8a8bc7" stroke="#3f52a9" stroke-width="2.5" stroke-linejoin="miter"/><path d="M191.8 101.6 L202.0 121.8 L181.7 121.8Z" fill="#8a8bc7" stroke="#3f52a9" stroke-width="2.5" stroke-linejoin="miter"/><path d="M232.2 90.1 L242.3 110.3 L222.0 110.3Z" fill="#8a8bc7" stroke="#3f52a9" stroke-width="2.5" stroke-linejoin="miter"/><path d="M233.7 78.7 L243.8 99.0 L223.5 99.0Z" fill="#8a8bc7" stroke="#3f52a9" stroke-width="2.5" stroke-linejoin="miter"/><path d="M203.9 165.0 L214.1 185.2 L193.8 185.2Z" fill="#8a8bc7" stroke="#3f52a9" stroke-width="2.5" stroke-linejoin="miter"/><path d="M248.2 129.9 L258.3 150.2 L238.0 150.2Z" fill="#8a8bc7" stroke="#3f52a9" stroke-width="2.5" stroke-linejoin="miter"/><path d="M274.0 117.9 L284.1 138.2 L263.9 138.2Z" fill="#8a8bc7" stroke="#3f52a9" stroke-width="2.5" stroke-linejoin="miter"/><path d="M275.8 149.9 L285.9 170.2 L265.7 170.2Z" fill="#8a8bc7" stroke="#3f52a9" stroke-width="2.5" stroke-linejoin="miter"/><path d="M230.2 187.3 L240.3 207.6 L220.0 207.6Z" fill="#8a8bc7" stroke="#3f52a9" stroke-width="2.5" stroke-linejoin="miter"/><path d="M292.3 187.9 L302.4 208.2 L282.2 208.2Z" fill="#8a8bc7" stroke="#3f52a9" stroke-width="2.5" stroke-linejoin="miter"/><path d="M318.3 201.7 L328.4 222.0 L308.2 222.0Z" fill="#8a8bc7" stroke="#3f52a9" stroke-width="2.5" stroke-linejoin="miter"/><path d="M247.7 240.1 L257.8 260.4 L237.5 260.4Z" fill="#8a8bc7" stroke="#3f52a9" stroke-width="2.5" stroke-linejoin="miter"/><path d="M267.8 286.9 L277.9 307.2 L257.7 307.2Z" fill="#8a8bc7" stroke="#3f52a9" stroke-width="2.5" stroke-linejoin="miter"/><path d="M290.8 336.5 L300.9 356.8 L280.7 356.8Z" fill="#8a8bc7" stroke="#3f52a9" stroke-width="2.5" stroke-linejoin="miter"/><path d="M321.7 362.3 L331.8 382.6 L311.6 382.6Z" fill="#8a8bc7" stroke="#3f52a9" stroke-width="2.5" stroke-linejoin="miter"/><path d="M336.5 369.8 L346.6 390.1 L326.4 390.1Z" fill="#8a8bc7" stroke="#3f52a9" stroke-width="2.5" stroke-linejoin="miter"/><path d="M309.7 390.8 L319.8 411.1 L299.6 411.1Z" fill="#8a8bc7" stroke="#3f52a9" stroke-width="2.5" stroke-linejoin="miter"/><path d="M332.4 440.4 L342.5 460.7 L322.2 460.7Z" fill="#8a8bc7" stroke="#3f52a9" stroke-width="2.5" stroke-linejoin="miter"/><path d="M354.9 493.2 L365.0 513.4 L344.8 513.4Z" fill="#8a8bc7" stroke="#3f52a9" stroke-width="2.5" stroke-linejoin="miter"/><path d="M364.2 522.2 L374.3 542.4 L354.1 542.4Z" fill="#8a8bc7" stroke="#3f52a9" stroke-width="2.5" stroke-linejoin="miter"/><path d="M362.0 573.1 L372.1 593.3 L351.9 593.3Z" fill="#8a8bc7" stroke="#3f52a9" stroke-width="2.5" stroke-linejoin="miter"/><path d="M368.2 610.3 L378.3 630.5 L358.1 630.5Z" fill="#8a8bc7" stroke="#3f52a9" stroke-width="2.5" stroke-linejoin="miter"/><path d="M380.7 605.8 L390.8 626.0 L370.6 626.0Z" fill="#8a8bc7" stroke="#3f52a9" stroke-width="2.5" stroke-linejoin="miter"/><path d="M406.1 610.1 L416.2 630.3 L396.0 630.3Z" fill="#8a8bc7" stroke="#3f52a9" stroke-width="2.5" stroke-linejoin="miter"/></g>
<g><path d="M715.0 74.4 V102.3 M704.7 74.4 H725.3 M704.7 102.3 H725.3" fill="none" stroke="#ed4d54" stroke-width="2.0"/><path d="M723.9 88.7 V112.1 M713.6 88.7 H734.2 M713.6 112.1 H734.2" fill="none" stroke="#ed4d54" stroke-width="2.0"/><path d="M759.1 140.2 V259.8 M748.8 140.2 H769.4 M748.8 259.8 H769.4" fill="none" stroke="#ed4d54" stroke-width="2.0"/><path d="M787.1 292.9 V339.9 M776.8 292.9 H797.4 M776.8 339.9 H797.4" fill="none" stroke="#ed4d54" stroke-width="2.0"/><path d="M810.4 510.2 V538.2 M800.1 510.2 H820.7 M800.1 538.2 H820.7" fill="none" stroke="#ed4d54" stroke-width="2.0"/><circle cx="567.4" cy="55.0" r="10.4" fill="#f5a3a7" stroke="#ed4d54" stroke-width="2.1"/><circle cx="588.4" cy="55.0" r="10.4" fill="#f5a3a7" stroke="#ed4d54" stroke-width="2.1"/><circle cx="594.0" cy="55.0" r="10.4" fill="#f5a3a7" stroke="#ed4d54" stroke-width="2.1"/><circle cx="608.2" cy="60.2" r="10.4" fill="#f5a3a7" stroke="#ed4d54" stroke-width="2.1"/><circle cx="626.7" cy="55.2" r="10.4" fill="#f5a3a7" stroke="#ed4d54" stroke-width="2.1"/><circle cx="640.8" cy="55.2" r="10.4" fill="#f5a3a7" stroke="#ed4d54" stroke-width="2.1"/><circle cx="629.3" cy="63.4" r="10.4" fill="#f5a3a7" stroke="#ed4d54" stroke-width="2.1"/><circle cx="639.5" cy="69.1" r="10.4" fill="#f5a3a7" stroke="#ed4d54" stroke-width="2.1"/><circle cx="668.0" cy="69.5" r="10.4" fill="#f5a3a7" stroke="#ed4d54" stroke-width="2.1"/><circle cx="670.5" cy="70.5" r="10.4" fill="#f5a3a7" stroke="#ed4d54" stroke-width="2.1"/><circle cx="682.4" cy="81.3" r="10.4" fill="#f5a3a7" stroke="#ed4d54" stroke-width="2.1"/><circle cx="682.4" cy="70.5" r="10.4" fill="#f5a3a7" stroke="#ed4d54" stroke-width="2.1"/><circle cx="727.8" cy="69.0" r="10.4" fill="#f5a3a7" stroke="#ed4d54" stroke-width="2.1"/><circle cx="715.0" cy="88.4" r="10.4" fill="#f5a3a7" stroke="#ed4d54" stroke-width="2.1"/><circle cx="723.9" cy="100.8" r="10.4" fill="#f5a3a7" stroke="#ed4d54" stroke-width="2.1"/><circle cx="740.7" cy="175.0" r="10.4" fill="#f5a3a7" stroke="#ed4d54" stroke-width="2.1"/><circle cx="759.1" cy="199.8" r="10.4" fill="#f5a3a7" stroke="#ed4d54" stroke-width="2.1"/><circle cx="730.5" cy="231.0" r="10.4" fill="#f5a3a7" stroke="#ed4d54" stroke-width="2.1"/><circle cx="766.4" cy="236.2" r="10.4" fill="#f5a3a7" stroke="#ed4d54" stroke-width="2.1"/><circle cx="772.3" cy="262.8" r="10.4" fill="#f5a3a7" stroke="#ed4d54" stroke-width="2.1"/><circle cx="773.3" cy="320.4" r="10.4" fill="#f5a3a7" stroke="#ed4d54" stroke-width="2.1"/><circle cx="787.1" cy="316.6" r="10.4" fill="#f5a3a7" stroke="#ed4d54" stroke-width="2.1"/><circle cx="801.1" cy="427.5" r="10.4" fill="#f5a3a7" stroke="#ed4d54" stroke-width="2.1"/><circle cx="810.4" cy="523.7" r="10.4" fill="#f5a3a7" stroke="#ed4d54" stroke-width="2.1"/><circle cx="802.9" cy="603.6" r="10.4" fill="#f5a3a7" stroke="#ed4d54" stroke-width="2.1"/><circle cx="827.9" cy="607.3" r="10.4" fill="#f5a3a7" stroke="#ed4d54" stroke-width="2.1"/><circle cx="815.4" cy="621.0" r="10.4" fill="#f5a3a7" stroke="#ed4d54" stroke-width="2.1"/><circle cx="854.3" cy="621.2" r="10.4" fill="#f5a3a7" stroke="#ed4d54" stroke-width="2.1"/><path d="M631.0 75.0 V119.0 M620.7 75.0 H641.3 M620.7 119.0 H641.3" fill="none" stroke="#3f52a9" stroke-width="2.4"/><path d="M644.6 77.0 V133.4 M634.3 77.0 H654.9 M634.3 133.4 H654.9" fill="none" stroke="#3f52a9" stroke-width="2.4"/><path d="M682.3 97.5 V191.0 M672.0 97.5 H692.6 M672.0 191.0 H692.6" fill="none" stroke="#3f52a9" stroke-width="2.4"/><path d="M707.6 172.3 V226.4 M697.3 172.3 H717.9 M697.3 226.4 H717.9" fill="none" stroke="#3f52a9" stroke-width="2.4"/><path d="M723.4 120.3 V324.6 M713.1 120.3 H733.7 M713.1 324.6 H733.7" fill="none" stroke="#3f52a9" stroke-width="2.4"/><path d="M740.8 254.0 V435.5 M730.5 254.0 H751.1 M730.5 435.5 H751.1" fill="none" stroke="#3f52a9" stroke-width="2.4"/><path d="M765.8 343.0 V505.1 M755.5 343.0 H776.1 M755.5 505.1 H776.1" fill="none" stroke="#3f52a9" stroke-width="2.4"/><path d="M786.1 433.0 V534.4 M775.8 433.0 H796.4 M775.8 534.4 H796.4" fill="none" stroke="#3f52a9" stroke-width="2.4"/><path d="M795.4 472.6 V519.0 M785.1 472.6 H805.7 M785.1 519.0 H805.7" fill="none" stroke="#3f52a9" stroke-width="2.4"/><path d="M810.4 513.6 V602.3 M800.1 513.6 H820.7 M800.1 602.3 H820.7" fill="none" stroke="#3f52a9" stroke-width="2.4"/><path d="M566.6 45.3 L576.8 65.5 L556.5 65.5Z" fill="#8a8bc7" stroke="#3f52a9" stroke-width="2.5" stroke-linejoin="miter"/><path d="M573.7 45.3 L583.9 65.5 L563.6 65.5Z" fill="#8a8bc7" stroke="#3f52a9" stroke-width="2.5" stroke-linejoin="miter"/><path d="M592.2 45.3 L602.4 65.5 L582.1 65.5Z" fill="#8a8bc7" stroke="#3f52a9" stroke-width="2.5" stroke-linejoin="miter"/><path d="M601.2 45.3 L611.4 65.5 L591.1 65.5Z" fill="#8a8bc7" stroke="#3f52a9" stroke-width="2.5" stroke-linejoin="miter"/><path d="M606.3 45.3 L616.4 65.5 L596.1 65.5Z" fill="#8a8bc7" stroke="#3f52a9" stroke-width="2.5" stroke-linejoin="miter"/><path d="M617.8 45.3 L627.9 65.5 L607.6 65.5Z" fill="#8a8bc7" stroke="#3f52a9" stroke-width="2.5" stroke-linejoin="miter"/><path d="M646.8 45.3 L656.9 65.5 L636.6 65.5Z" fill="#8a8bc7" stroke="#3f52a9" stroke-width="2.5" stroke-linejoin="miter"/><path d="M608.8 61.7 L618.9 82.0 L598.6 82.0Z" fill="#8a8bc7" stroke="#3f52a9" stroke-width="2.5" stroke-linejoin="miter"/><path d="M651.0 62.3 L661.1 82.5 L640.9 82.5Z" fill="#8a8bc7" stroke="#3f52a9" stroke-width="2.5" stroke-linejoin="miter"/><path d="M661.9 62.6 L672.0 82.8 L651.8 82.8Z" fill="#8a8bc7" stroke="#3f52a9" stroke-width="2.5" stroke-linejoin="miter"/><path d="M692.9 62.5 L703.0 82.8 L682.8 82.8Z" fill="#8a8bc7" stroke="#3f52a9" stroke-width="2.5" stroke-linejoin="miter"/><path d="M631.0 88.3 L641.1 108.5 L620.9 108.5Z" fill="#8a8bc7" stroke="#3f52a9" stroke-width="2.5" stroke-linejoin="miter"/><path d="M644.6 97.0 L654.8 117.2 L634.5 117.2Z" fill="#8a8bc7" stroke="#3f52a9" stroke-width="2.5" stroke-linejoin="miter"/><path d="M691.5 100.3 L701.6 120.5 L681.4 120.5Z" fill="#8a8bc7" stroke="#3f52a9" stroke-width="2.5" stroke-linejoin="miter"/><path d="M682.3 135.3 L692.4 155.6 L672.1 155.6Z" fill="#8a8bc7" stroke="#3f52a9" stroke-width="2.5" stroke-linejoin="miter"/><path d="M707.6 190.3 L717.8 210.6 L697.5 210.6Z" fill="#8a8bc7" stroke="#3f52a9" stroke-width="2.5" stroke-linejoin="miter"/><path d="M735.3 186.9 L745.4 207.2 L725.1 207.2Z" fill="#8a8bc7" stroke="#3f52a9" stroke-width="2.5" stroke-linejoin="miter"/><path d="M723.4 212.5 L733.5 232.8 L713.2 232.8Z" fill="#8a8bc7" stroke="#3f52a9" stroke-width="2.5" stroke-linejoin="miter"/><path d="M734.2 228.8 L744.4 249.1 L724.1 249.1Z" fill="#8a8bc7" stroke="#3f52a9" stroke-width="2.5" stroke-linejoin="miter"/><path d="M740.8 336.0 L750.9 356.2 L730.6 356.2Z" fill="#8a8bc7" stroke="#3f52a9" stroke-width="2.5" stroke-linejoin="miter"/><path d="M752.3 351.3 L762.4 371.6 L742.1 371.6Z" fill="#8a8bc7" stroke="#3f52a9" stroke-width="2.5" stroke-linejoin="miter"/><path d="M780.8 398.8 L790.9 419.1 L770.6 419.1Z" fill="#8a8bc7" stroke="#3f52a9" stroke-width="2.5" stroke-linejoin="miter"/><path d="M765.8 415.6 L775.9 435.9 L755.6 435.9Z" fill="#8a8bc7" stroke="#3f52a9" stroke-width="2.5" stroke-linejoin="miter"/><path d="M777.3 429.3 L787.4 449.6 L767.1 449.6Z" fill="#8a8bc7" stroke="#3f52a9" stroke-width="2.5" stroke-linejoin="miter"/><path d="M786.1 475.2 L796.2 495.4 L776.0 495.4Z" fill="#8a8bc7" stroke="#3f52a9" stroke-width="2.5" stroke-linejoin="miter"/><path d="M795.4 486.9 L805.5 507.2 L785.2 507.2Z" fill="#8a8bc7" stroke="#3f52a9" stroke-width="2.5" stroke-linejoin="miter"/><path d="M810.4 548.5 L820.5 568.8 L800.2 568.8Z" fill="#8a8bc7" stroke="#3f52a9" stroke-width="2.5" stroke-linejoin="miter"/><path d="M823.4 558.7 L833.5 578.9 L813.2 578.9Z" fill="#8a8bc7" stroke="#3f52a9" stroke-width="2.5" stroke-linejoin="miter"/><path d="M821.7 593.6 L831.9 613.8 L811.6 613.8Z" fill="#8a8bc7" stroke="#3f52a9" stroke-width="2.5" stroke-linejoin="miter"/><path d="M827.2 611.3 L837.4 631.5 L817.1 631.5Z" fill="#8a8bc7" stroke="#3f52a9" stroke-width="2.5" stroke-linejoin="miter"/><path d="M840.6 611.5 L850.8 631.8 L830.5 631.8Z" fill="#8a8bc7" stroke="#3f52a9" stroke-width="2.5" stroke-linejoin="miter"/></g>
<g><path d="M1162.7 281.1 V344.2 M1152.4 281.1 H1173.0 M1152.4 344.2 H1173.0" fill="none" stroke="#ed4d54" stroke-width="2.0"/><circle cx="1025.5" cy="54.0" r="10.4" fill="#f5a3a7" stroke="#ed4d54" stroke-width="2.1"/><circle cx="1037.5" cy="54.0" r="10.4" fill="#f5a3a7" stroke="#ed4d54" stroke-width="2.1"/><circle cx="1083.7" cy="54.0" r="10.4" fill="#f5a3a7" stroke="#ed4d54" stroke-width="2.1"/><circle cx="1100.0" cy="54.0" r="10.4" fill="#f5a3a7" stroke="#ed4d54" stroke-width="2.1"/><circle cx="1127.9" cy="61.4" r="10.4" fill="#f5a3a7" stroke="#ed4d54" stroke-width="2.1"/><circle cx="1048.0" cy="100.6" r="10.4" fill="#f5a3a7" stroke="#ed4d54" stroke-width="2.1"/><circle cx="1142.4" cy="93.3" r="10.4" fill="#f5a3a7" stroke="#ed4d54" stroke-width="2.1"/><circle cx="1074.3" cy="135.5" r="10.4" fill="#f5a3a7" stroke="#ed4d54" stroke-width="2.1"/><circle cx="1173.7" cy="126.8" r="10.4" fill="#f5a3a7" stroke="#ed4d54" stroke-width="2.1"/><circle cx="1187.7" cy="126.8" r="10.4" fill="#f5a3a7" stroke="#ed4d54" stroke-width="2.1"/><circle cx="1074.6" cy="165.8" r="10.4" fill="#f5a3a7" stroke="#ed4d54" stroke-width="2.1"/><circle cx="1089.3" cy="165.8" r="10.4" fill="#f5a3a7" stroke="#ed4d54" stroke-width="2.1"/><circle cx="1171.6" cy="175.3" r="10.4" fill="#f5a3a7" stroke="#ed4d54" stroke-width="2.1"/><circle cx="1086.6" cy="202.8" r="10.4" fill="#f5a3a7" stroke="#ed4d54" stroke-width="2.1"/><circle cx="1118.5" cy="202.4" r="10.4" fill="#f5a3a7" stroke="#ed4d54" stroke-width="2.1"/><circle cx="1112.2" cy="216.0" r="10.4" fill="#f5a3a7" stroke="#ed4d54" stroke-width="2.1"/><circle cx="1135.1" cy="221.2" r="10.4" fill="#f5a3a7" stroke="#ed4d54" stroke-width="2.1"/><circle cx="1188.3" cy="229.0" r="10.4" fill="#f5a3a7" stroke="#ed4d54" stroke-width="2.1"/><circle cx="1217.8" cy="235.3" r="10.4" fill="#f5a3a7" stroke="#ed4d54" stroke-width="2.1"/><circle cx="1125.2" cy="236.0" r="10.4" fill="#f5a3a7" stroke="#ed4d54" stroke-width="2.1"/><circle cx="1162.7" cy="312.1" r="10.4" fill="#f5a3a7" stroke="#ed4d54" stroke-width="2.1"/><circle cx="1176.0" cy="341.7" r="10.4" fill="#f5a3a7" stroke="#ed4d54" stroke-width="2.1"/><circle cx="1214.1" cy="337.2" r="10.4" fill="#f5a3a7" stroke="#ed4d54" stroke-width="2.1"/><circle cx="1206.0" cy="388.0" r="10.4" fill="#f5a3a7" stroke="#ed4d54" stroke-width="2.1"/><circle cx="1230.3" cy="415.0" r="10.4" fill="#f5a3a7" stroke="#ed4d54" stroke-width="2.1"/><circle cx="1220.3" cy="453.8" r="10.4" fill="#f5a3a7" stroke="#ed4d54" stroke-width="2.1"/><circle cx="1204.0" cy="468.8" r="10.4" fill="#f5a3a7" stroke="#ed4d54" stroke-width="2.1"/><circle cx="1249.9" cy="472.3" r="10.4" fill="#f5a3a7" stroke="#ed4d54" stroke-width="2.1"/><circle cx="1221.0" cy="519.5" r="10.4" fill="#f5a3a7" stroke="#ed4d54" stroke-width="2.1"/><circle cx="1265.5" cy="527.8" r="10.4" fill="#f5a3a7" stroke="#ed4d54" stroke-width="2.1"/><circle cx="1232.9" cy="553.4" r="10.4" fill="#f5a3a7" stroke="#ed4d54" stroke-width="2.1"/><circle cx="1247.0" cy="589.9" r="10.4" fill="#f5a3a7" stroke="#ed4d54" stroke-width="2.1"/><circle cx="1283.2" cy="583.0" r="10.4" fill="#f5a3a7" stroke="#ed4d54" stroke-width="2.1"/><circle cx="1260.8" cy="607.3" r="10.4" fill="#f5a3a7" stroke="#ed4d54" stroke-width="2.1"/><circle cx="1258.0" cy="620.6" r="10.4" fill="#f5a3a7" stroke="#ed4d54" stroke-width="2.1"/><circle cx="1274.6" cy="620.2" r="10.4" fill="#f5a3a7" stroke="#ed4d54" stroke-width="2.1"/><circle cx="1305.4" cy="620.8" r="10.4" fill="#f5a3a7" stroke="#ed4d54" stroke-width="2.1"/><path d="M1188.3 317.9 V381.0 M1178.0 317.9 H1198.6 M1178.0 381.0 H1198.6" fill="none" stroke="#3f52a9" stroke-width="2.4"/><path d="M1232.9 471.8 V529.6 M1222.6 471.8 H1243.2 M1222.6 529.6 H1243.2" fill="none" stroke="#3f52a9" stroke-width="2.4"/><path d="M1025.5 44.5 L1035.7 64.8 L1015.4 64.8Z" fill="#8a8bc7" stroke="#3f52a9" stroke-width="2.5" stroke-linejoin="miter"/><path d="M1027.8 44.5 L1038.0 64.8 L1017.6 64.8Z" fill="#8a8bc7" stroke="#3f52a9" stroke-width="2.5" stroke-linejoin="miter"/><path d="M1030.1 44.5 L1040.2 64.8 L1019.9 64.8Z" fill="#8a8bc7" stroke="#3f52a9" stroke-width="2.5" stroke-linejoin="miter"/><path d="M1045.2 44.5 L1055.4 64.8 L1035.0 64.8Z" fill="#8a8bc7" stroke="#3f52a9" stroke-width="2.5" stroke-linejoin="miter"/><path d="M1052.8 44.5 L1063.0 64.8 L1042.6 64.8Z" fill="#8a8bc7" stroke="#3f52a9" stroke-width="2.5" stroke-linejoin="miter"/><path d="M1083.5 44.5 L1093.7 64.8 L1073.3 64.8Z" fill="#8a8bc7" stroke="#3f52a9" stroke-width="2.5" stroke-linejoin="miter"/><path d="M1086.7 44.5 L1096.9 64.8 L1076.5 64.8Z" fill="#8a8bc7" stroke="#3f52a9" stroke-width="2.5" stroke-linejoin="miter"/><path d="M1100.2 44.5 L1110.4 64.8 L1090.0 64.8Z" fill="#8a8bc7" stroke="#3f52a9" stroke-width="2.5" stroke-linejoin="miter"/><path d="M1127.9 44.5 L1138.1 64.8 L1117.8 64.8Z" fill="#8a8bc7" stroke="#3f52a9" stroke-width="2.5" stroke-linejoin="miter"/><path d="M1059.2 116.5 L1069.4 136.8 L1049.0 136.8Z" fill="#8a8bc7" stroke="#3f52a9" stroke-width="2.5" stroke-linejoin="miter"/><path d="M1072.7 123.3 L1082.9 143.6 L1062.5 143.6Z" fill="#8a8bc7" stroke="#3f52a9" stroke-width="2.5" stroke-linejoin="miter"/><path d="M1075.9 125.9 L1086.1 146.2 L1065.8 146.2Z" fill="#8a8bc7" stroke="#3f52a9" stroke-width="2.5" stroke-linejoin="miter"/><path d="M1087.5 132.3 L1097.7 152.6 L1077.3 152.6Z" fill="#8a8bc7" stroke="#3f52a9" stroke-width="2.5" stroke-linejoin="miter"/><path d="M1089.3 133.8 L1099.5 154.1 L1079.1 154.1Z" fill="#8a8bc7" stroke="#3f52a9" stroke-width="2.5" stroke-linejoin="miter"/><path d="M1097.0 126.6 L1107.2 146.9 L1086.8 146.9Z" fill="#8a8bc7" stroke="#3f52a9" stroke-width="2.5" stroke-linejoin="miter"/><path d="M1130.8 109.2 L1141.0 129.5 L1120.6 129.5Z" fill="#8a8bc7" stroke="#3f52a9" stroke-width="2.5" stroke-linejoin="miter"/><path d="M1142.4 109.8 L1152.6 130.1 L1132.2 130.1Z" fill="#8a8bc7" stroke="#3f52a9" stroke-width="2.5" stroke-linejoin="miter"/><path d="M1105.3 168.1 L1115.5 188.4 L1095.1 188.4Z" fill="#8a8bc7" stroke="#3f52a9" stroke-width="2.5" stroke-linejoin="miter"/><path d="M1112.3 163.9 L1122.5 184.2 L1102.1 184.2Z" fill="#8a8bc7" stroke="#3f52a9" stroke-width="2.5" stroke-linejoin="miter"/><path d="M1118.7 168.0 L1128.9 188.2 L1108.5 188.2Z" fill="#8a8bc7" stroke="#3f52a9" stroke-width="2.5" stroke-linejoin="miter"/><path d="M1125.2 243.7 L1135.4 263.9 L1115.0 263.9Z" fill="#8a8bc7" stroke="#3f52a9" stroke-width="2.5" stroke-linejoin="miter"/><path d="M1172.2 242.3 L1182.4 262.6 L1162.0 262.6Z" fill="#8a8bc7" stroke="#3f52a9" stroke-width="2.5" stroke-linejoin="miter"/><path d="M1173.5 240.1 L1183.7 260.4 L1163.3 260.4Z" fill="#8a8bc7" stroke="#3f52a9" stroke-width="2.5" stroke-linejoin="miter"/><path d="M1151.5 271.6 L1161.7 291.9 L1141.3 291.9Z" fill="#8a8bc7" stroke="#3f52a9" stroke-width="2.5" stroke-linejoin="miter"/><path d="M1163.5 333.7 L1173.7 353.9 L1153.3 353.9Z" fill="#8a8bc7" stroke="#3f52a9" stroke-width="2.5" stroke-linejoin="miter"/><path d="M1188.3 340.5 L1198.5 360.8 L1178.1 360.8Z" fill="#8a8bc7" stroke="#3f52a9" stroke-width="2.5" stroke-linejoin="miter"/><path d="M1214.6 348.0 L1224.8 368.2 L1204.4 368.2Z" fill="#8a8bc7" stroke="#3f52a9" stroke-width="2.5" stroke-linejoin="miter"/><path d="M1190.3 415.5 L1200.5 435.8 L1180.1 435.8Z" fill="#8a8bc7" stroke="#3f52a9" stroke-width="2.5" stroke-linejoin="miter"/><path d="M1217.8 416.3 L1228.0 436.6 L1207.6 436.6Z" fill="#8a8bc7" stroke="#3f52a9" stroke-width="2.5" stroke-linejoin="miter"/><path d="M1163.0 502.8 L1173.2 523.0 L1152.8 523.0Z" fill="#8a8bc7" stroke="#3f52a9" stroke-width="2.5" stroke-linejoin="miter"/><path d="M1232.9 491.0 L1243.1 511.2 L1222.8 511.2Z" fill="#8a8bc7" stroke="#3f52a9" stroke-width="2.5" stroke-linejoin="miter"/><path d="M1203.8 531.9 L1214.0 552.1 L1193.6 552.1Z" fill="#8a8bc7" stroke="#3f52a9" stroke-width="2.5" stroke-linejoin="miter"/><path d="M1221.4 561.3 L1231.6 581.5 L1211.2 581.5Z" fill="#8a8bc7" stroke="#3f52a9" stroke-width="2.5" stroke-linejoin="miter"/><path d="M1246.8 590.8 L1257.0 611.0 L1236.6 611.0Z" fill="#8a8bc7" stroke="#3f52a9" stroke-width="2.5" stroke-linejoin="miter"/><path d="M1207.7 611.1 L1217.9 631.3 L1197.5 631.3Z" fill="#8a8bc7" stroke="#3f52a9" stroke-width="2.5" stroke-linejoin="miter"/><path d="M1255.3 611.1 L1265.5 631.3 L1245.1 631.3Z" fill="#8a8bc7" stroke="#3f52a9" stroke-width="2.5" stroke-linejoin="miter"/><path d="M1260.8 611.1 L1271.0 631.3 L1250.6 631.3Z" fill="#8a8bc7" stroke="#3f52a9" stroke-width="2.5" stroke-linejoin="miter"/><path d="M1267.8 611.1 L1278.0 631.3 L1257.6 631.3Z" fill="#8a8bc7" stroke="#3f52a9" stroke-width="2.5" stroke-linejoin="miter"/></g>
<g><rect x="117.2" y="471.4" width="159.2" height="138.5" fill="#fff" stroke="#060606" stroke-width="2.8"/><path d="M137.5 490.4 L148.7 512.5 L126.3 512.5Z" fill="#5d65b3" stroke="#4656ad" stroke-width="1.6"/><circle cx="137.6" cy="563.3" r="10.4" fill="#f5a3a7" stroke="#ed4d54" stroke-width="2.1"/><g font-size="31.7" fill="#111" stroke="#111" stroke-width=".35"><text x="158.2" y="511.8">1 yr</text><text x="158.2" y="540.9">n = 215</text><text x="158.2" y="572.2">3 yr</text><text x="158.2" y="601.8">n = 248</text></g></g>
<g><rect x="575.8" y="472.3" width="158.5" height="138.0" fill="#fff" stroke="#060606" stroke-width="2.8"/><path d="M594.4 491.0 L605.6 513.1 L583.2 513.1Z" fill="#5d65b3" stroke="#4656ad" stroke-width="1.6"/><circle cx="594.4" cy="563.3" r="10.4" fill="#f5a3a7" stroke="#ed4d54" stroke-width="2.1"/><g font-size="31.7" fill="#111" stroke="#111" stroke-width=".35"><text x="616.8" y="512.7">1 yr</text><text x="616.8" y="541.8">n = 181</text><text x="616.8" y="573.1">3 yr</text><text x="616.8" y="602.7">n = 220</text></g></g>
<g><rect x="1231.0" y="59.5" width="158.6" height="138.0" fill="#fff" stroke="#060606" stroke-width="2.8"/><path d="M1248.8 77.5 L1260.0 99.6 L1237.6 99.6Z" fill="#5d65b3" stroke="#4656ad" stroke-width="1.6"/><circle cx="1248.7" cy="150.3" r="10.4" fill="#f5a3a7" stroke="#ed4d54" stroke-width="2.1"/><g font-size="31.7" fill="#111" stroke="#111" stroke-width=".35"><text x="1272.0" y="99.9">1 yr</text><text x="1272.0" y="129.0">n = 190</text><text x="1272.0" y="160.3">3 yr</text><text x="1272.0" y="189.9">n = 206</text></g></g>
<g font-size="29.6" font-weight="bold" fill="#080808"><text x="61.4" y="24.1">A</text><text x="514" y="24.1">B</text><text x="965.6" y="24.2">C</text></g>
<text x="500.4" y="727.2" font-size="40.1" fill="#111" stroke="#111" stroke-width=".35">Duration from hatch (hours)</text>
<text transform="translate(30.3,439.6) rotate(-90)" font-size="40" fill="#111" stroke="#111" stroke-width=".35">Survival rate</text>
</svg>
</body></html>
